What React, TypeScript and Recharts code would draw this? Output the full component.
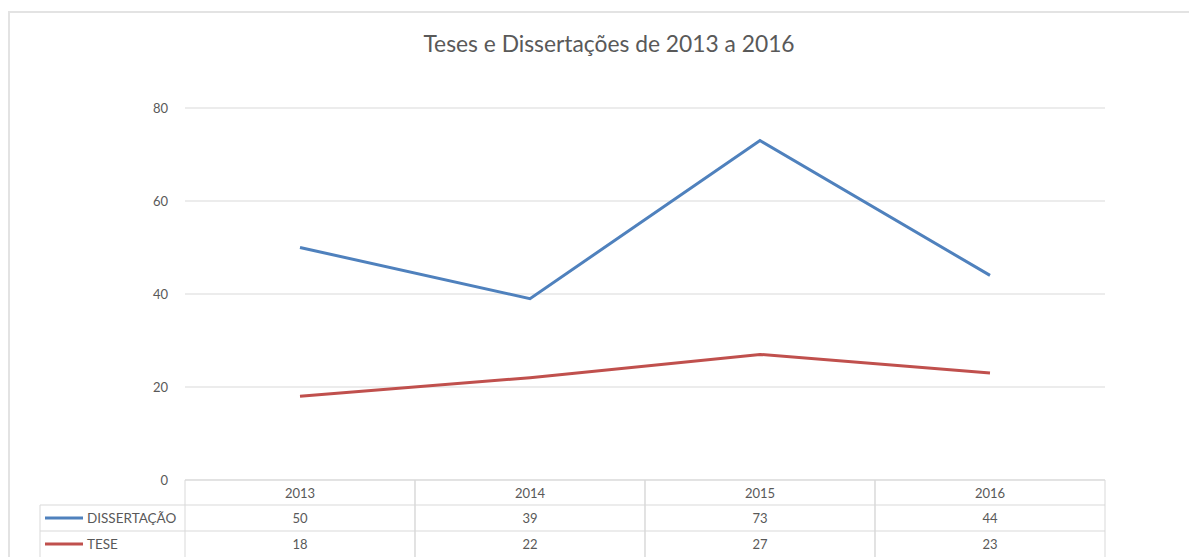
import React from 'react';
import { LineChart, Line, XAxis, YAxis, CartesianGrid } from 'recharts';

const years = ['2013', '2014', '2015', '2016'];
const dissertacao = [50, 39, 73, 44];
const tese = [18, 22, 27, 23];
const yTicks = [0, 20, 40, 60, 80];
const seriesNames = ['DISSERTAÇÃO', 'TESE'];

const data = years.map((y, i) => ({ year: y, DISSERTACAO: dissertacao[i], TESE: tese[i] }));

const BLUE = '#4f81bd';
const RED = '#c0504d';
const GRID = '#d9d9d9';
const TEXT = '#595959';
const FONT = 'Lato, "Liberation Sans", sans-serif';

const HALF = 115;
const ROW = [25, 26, 26];

const TableTick = (props: any) => {
  const { x, y, index } = props;
  const left = x - HALF;
  const right = x + HALF;
  const r1 = y + ROW[0];
  const r2 = r1 + ROW[1];
  const r3 = r2 + ROW[2];
  const vals = [dissertacao[index], tese[index]];
  return (
    <g>
      <line x1={left} x2={right} y1={y} y2={y} stroke={GRID} />
      <line x1={left} x2={right} y1={r1} y2={r1} stroke={GRID} />
      <line x1={left} x2={right} y1={r2} y2={r2} stroke={GRID} />
      <line x1={left} x2={left} y1={y} y2={r3} stroke={GRID} />
      <line x1={right} x2={right} y1={y} y2={r3} stroke={GRID} />
      <text x={x} y={y + ROW[0] / 2} textAnchor="middle" dominantBaseline="central" fill={TEXT} fontSize={13} fontFamily={FONT}>
        {years[index]}
      </text>
      <text x={x} y={r1 + ROW[1] / 2} textAnchor="middle" dominantBaseline="central" fill={TEXT} fontSize={13} fontFamily={FONT}>
        {vals[0]}
      </text>
      <text x={x} y={r2 + ROW[2] / 2} textAnchor="middle" dominantBaseline="central" fill={TEXT} fontSize={13} fontFamily={FONT}>
        {vals[1]}
      </text>
      {index === 0 && (
        <g>
          <line x1={left - 145} x2={left} y1={r1} y2={r1} stroke={GRID} />
          <line x1={left - 145} x2={left} y1={r2} y2={r2} stroke={GRID} />
          <line x1={left - 145} x2={left - 145} y1={r1} y2={r3} stroke={GRID} />
          <line x1={left - 140} x2={left - 102} y1={r1 + ROW[1] / 2} y2={r1 + ROW[1] / 2} stroke={BLUE} strokeWidth={3} />
          <text x={left - 98} y={r1 + ROW[1] / 2} dominantBaseline="central" fill={TEXT} fontSize={13.5} fontFamily={FONT}>
            {seriesNames[0]}
          </text>
          <line x1={left - 140} x2={left - 102} y1={r2 + ROW[2] / 2} y2={r2 + ROW[2] / 2} stroke={RED} strokeWidth={3} />
          <text x={left - 98} y={r2 + ROW[2] / 2} dominantBaseline="central" fill={TEXT} fontSize={13.5} fontFamily={FONT}>
            {seriesNames[1]}
          </text>
        </g>
      )}
    </g>
  );
};

export default function App() {
  return (
    <div style={{ position: 'relative', width: 1189, height: 549, overflow: 'hidden', background: '#fff' }}>
      <div
        style={{
          position: 'absolute',
          left: 0,
          top: 3,
          width: 1300,
          height: 700,
          border: '2px solid #e3e3e3',
          boxSizing: 'border-box',
        }}
      />
      <div
        style={{
          position: 'absolute',
          left: 0,
          width: 1202,
          top: 21,
          textAlign: 'center',
          fontFamily: FONT,
          fontSize: 22.8,
          color: TEXT,
        }}
      >
        Teses e Dissertações de 2013 a 2016
      </div>
      <div style={{ position: 'absolute', left: 0, top: 0 }}>
        <LineChart width={1189} height={549} data={data} margin={{ top: 100, right: 92, bottom: 0, left: 0 }}>
          <CartesianGrid horizontal vertical={false} stroke={GRID} />
          <XAxis
            dataKey="year"
            height={77}
            padding={{ left: HALF, right: HALF }}
            axisLine={false}
            tickLine={false}
            tickSize={0}
            tickMargin={0}
            interval={0}
            tick={<TableTick />}
          />
          <YAxis
            width={177}
            domain={[0, 80]}
            ticks={yTicks}
            axisLine={false}
            tickLine={false}
            tickSize={0}
            tickMargin={17}
            tick={{ fill: TEXT, fontSize: 13, fontFamily: FONT }}
          />
          <Line dataKey="DISSERTACAO" stroke={BLUE} strokeWidth={3} dot={false} isAnimationActive={false} />
          <Line dataKey="TESE" stroke={RED} strokeWidth={3} dot={false} isAnimationActive={false} />
        </LineChart>
      </div>
    </div>
  );
}
